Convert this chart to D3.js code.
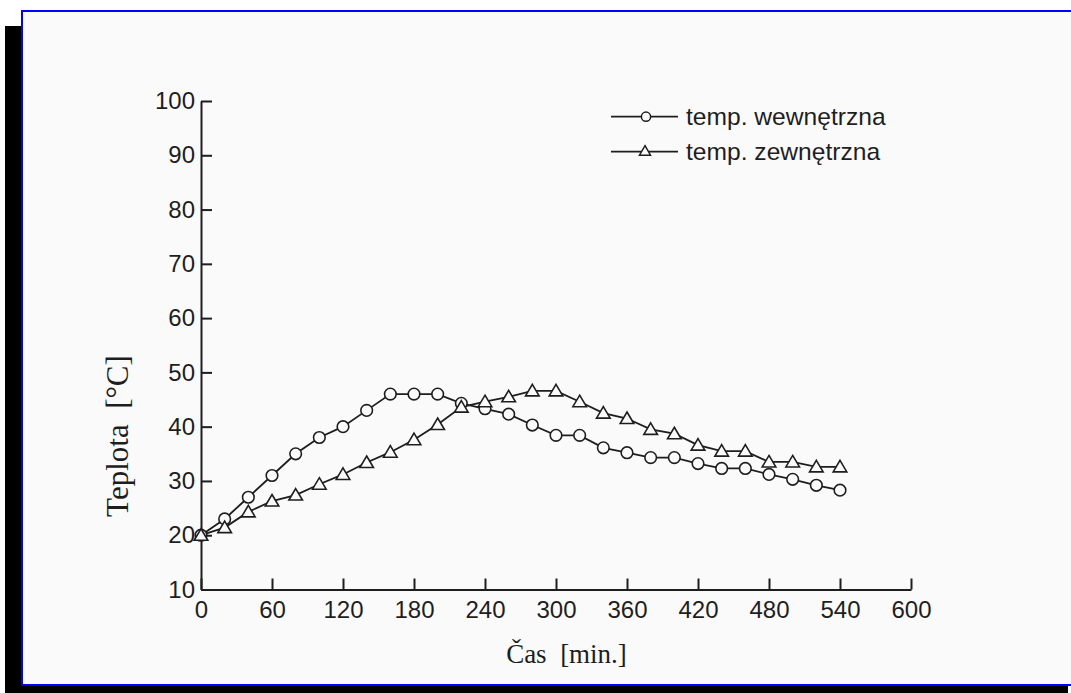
<!DOCTYPE html>
<html><head><meta charset="utf-8">
<script src="https://cdn.jsdelivr.net/npm/d3@7"></script>
<style>html,body{margin:0;padding:0;background:#fff;}svg{display:block;}</style>
</head><body>
<script>
const times = [0,20,40,60,80,100,120,140,160,180,200,220,240,260,280,300,320,340,360,380,400,420,440,460,480,500,520,540];
const tempInner = [20,23,27,31,35,38,40,43,46,46,46,44.3,43.3,42.3,40.3,38.4,38.4,36.1,35.2,34.3,34.3,33.2,32.3,32.3,31.2,30.3,29.2,28.3];
const tempOuter = [20,21.4,24.3,26.3,27.4,29.4,31.2,33.4,35.3,37.6,40.4,43.6,44.6,45.5,46.6,46.6,44.6,42.5,41.5,39.5,38.7,36.6,35.5,35.5,33.5,33.5,32.6,32.6];
const xTicks = [0,60,120,180,240,300,360,420,480,540,600];
const yTicks = [10,20,30,40,50,60,70,80,90,100];
const seriesNames = ["temp. wewnętrzna","temp. zewnętrzna"];
const xTitle = "Čas\u00a0\u00a0[min.]";
const yTitle = "Teplota\u00a0\u00a0[°C]";

const W = 1071, H = 693;
const svg = d3.select("body").append("svg").attr("width", W).attr("height", H);
const paper = "#fbfafb";

// scanned page frame
svg.append("rect").attr("x",0).attr("y",0).attr("width",W).attr("height",H).attr("fill","#ffffff");
svg.append("rect").attr("x",5).attr("y",26).attr("width",18).attr("height",H-26).attr("fill","#000");
svg.append("rect").attr("x",5).attr("y",686).attr("width",1063).attr("height",7).attr("fill","#000");
svg.append("rect").attr("x",21).attr("y",10).attr("width",W-21).attr("height",676).attr("fill","#0000ff");
svg.append("rect").attr("x",23).attr("y",12).attr("width",W-23).attr("height",672).attr("fill",paper);

const x = d3.scaleLinear().domain([0,600]).range([201,911]);
const y = d3.scaleLinear().domain([10,100]).range([589.5,101]);
const ink = "#1e1e1e";
const sans = "'Liberation Sans', Arial, sans-serif";
const serif = "'Liberation Serif', 'Times New Roman', serif";

const xAxis = svg.append("g").attr("transform", `translate(0,${y(10)})`)
  .call(d3.axisBottom(x).tickValues(xTicks).tickSizeInner(-11).tickSizeOuter(0).tickPadding(11).tickFormat(d3.format("d")));
const yAxis = svg.append("g").attr("transform", `translate(${x(0)},0)`)
  .call(d3.axisLeft(y).tickValues(yTicks).tickSizeInner(-11).tickSizeOuter(0).tickPadding(6).tickFormat(d3.format("d")));
[xAxis, yAxis].forEach(g => {
  g.selectAll("path,line").attr("stroke", ink).attr("stroke-width", 2);
  g.selectAll("text").attr("fill", ink).style("font-family", sans).style("font-size","24px");
  g.attr("font-family", null).attr("font-size", null);
});

const line = d3.line().x((d,i)=>x(times[i])).y(d=>y(d));
const triPath = "M0,-6.5L6.8,5L-6.8,5Z";

svg.append("path").datum(tempInner).attr("d", line).attr("fill","none").attr("stroke",ink).attr("stroke-width",1.8);
svg.append("path").datum(tempOuter).attr("d", line).attr("fill","none").attr("stroke",ink).attr("stroke-width",1.8);

svg.append("g").selectAll("circle").data(tempInner).join("circle")
  .attr("cx",(d,i)=>x(times[i])).attr("cy",d=>y(d)).attr("r",5.8)
  .attr("fill",paper).attr("stroke",ink).attr("stroke-width",1.6);
svg.append("g").selectAll("path").data(tempOuter).join("path")
  .attr("d",triPath).attr("transform",(d,i)=>`translate(${x(times[i])},${y(d)})`)
  .attr("fill",paper).attr("stroke",ink).attr("stroke-width",1.6);

// legend
const lg = svg.append("g");
const legY = [116.7, 151.7];
seriesNames.forEach((name,k)=>{
  lg.append("line").attr("x1",611).attr("x2",678).attr("y1",legY[k]).attr("y2",legY[k]).attr("stroke",ink).attr("stroke-width",1.8);
  if(k===0){
    lg.append("circle").attr("cx",646).attr("cy",legY[k]).attr("r",4.6).attr("fill",paper).attr("stroke",ink).attr("stroke-width",1.5);
  } else {
    lg.append("path").attr("d","M0,-5.5L5.5,4L-5.5,4Z").attr("transform",`translate(645,${legY[k]-0.5})`).attr("fill",paper).attr("stroke",ink).attr("stroke-width",1.5);
  }
  lg.append("text").attr("x",686).attr("y",legY[k]).attr("dy","0.35em").text(name)
    .attr("fill",ink).style("font-family",sans).style("font-size","24.6px");
});

// axis titles
svg.append("text").attr("x",566.5).attr("y",663).attr("text-anchor","middle").text(xTitle)
  .attr("fill",ink).style("font-family",serif).style("font-size","27px");
svg.append("text").attr("transform","translate(128,436) rotate(-90)").attr("text-anchor","middle").text(yTitle)
  .attr("fill",ink).style("font-family",serif).style("font-size","31px");
</script>
</body></html>
